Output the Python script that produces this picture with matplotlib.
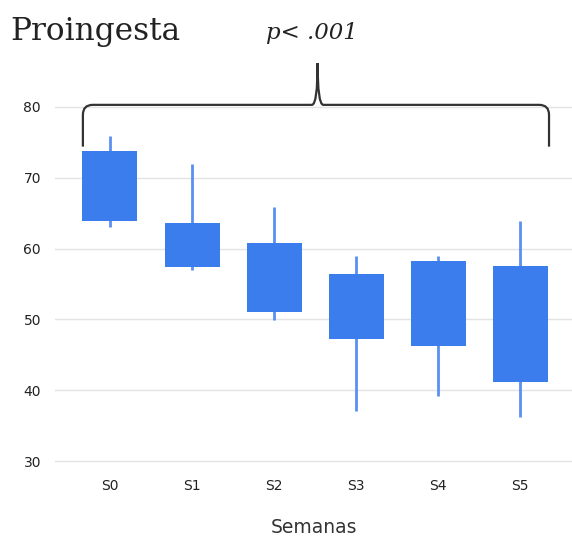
import matplotlib
matplotlib.use('Agg')
import matplotlib.pyplot as plt
import matplotlib.path as mpath
import matplotlib.patches as mpatches
import numpy as np

semanas = ['S0', 'S1', 'S2', 'S3', 'S4', 'S5']
caja_alta = [73.8, 63.6, 60.8, 56.4, 58.3, 57.5]
caja_baja = [63.9, 57.4, 51.1, 47.2, 46.2, 41.1]
bigote_max = [75.9, 72.0, 65.9, 59.0, 58.9, 63.9]
bigote_min = [63.1, 57.0, 49.9, 37.1, 39.2, 36.2]

fig = plt.figure(figsize=(5.72, 5.39), dpi=100)
ax = fig.add_axes([55 / 572, 1 - 468.1 / 539, 517 / 572, 368.2 / 539])

x = np.arange(len(semanas))
# bigotes
ax.vlines(x, bigote_min, bigote_max, color='#5b8ff2', linewidth=2, zorder=2)
# cajas
ax.bar(x, np.array(caja_alta) - np.array(caja_baja), bottom=caja_baja,
       width=0.67, color='#3b7ded', zorder=3)

ax.set_xlim(-0.67, 5.63)
ax.set_ylim(29, 81)
ax.set_yticks([30, 40, 50, 60, 70, 80])
ax.set_xticks(x)
ax.set_xticklabels(semanas)
ax.tick_params(length=0, labelsize=10, colors='#222222', pad=8)
ax.tick_params(axis='y', pad=10)
ax.grid(axis='y', color='#e3e3e3', linewidth=1)
ax.set_axisbelow(True)
for s in ax.spines.values():
    s.set_visible(False)
ax.set_xlabel('Semanas', fontsize=13.5, color='#333333', labelpad=18)

# llave
x0, x1, xp = -0.33, 5.35, 2.53
yb, yh, yt = 74.4, 80.3, 86.2
rx, ry = 0.12, 1.4
verts = [(x0, yb), (x0, yh - ry), (x0, yh), (x0 + rx, yh),
         (xp - 0.07, yh), (xp, yh), (xp, yt),
         (xp, yh), (xp + 0.07, yh),
         (x1 - rx, yh), (x1, yh), (x1, yh - ry), (x1, yb)]
codes = [mpath.Path.MOVETO, mpath.Path.LINETO, mpath.Path.CURVE3, mpath.Path.CURVE3,
         mpath.Path.LINETO, mpath.Path.CURVE3, mpath.Path.CURVE3,
         mpath.Path.CURVE3, mpath.Path.CURVE3,
         mpath.Path.LINETO, mpath.Path.CURVE3, mpath.Path.CURVE3, mpath.Path.LINETO]
llave = mpatches.PathPatch(mpath.Path(verts, codes), facecolor='none',
                           edgecolor='#333333', linewidth=1.6, clip_on=False, zorder=4)
ax.add_patch(llave)

fig.text(10 / 572, 1 - 40 / 539, 'Proingesta', fontsize=22.5, family='DejaVu Serif',
         color='#222222', ha='left', va='baseline')
fig.text(266 / 572, 1 - 39 / 539, 'p< .001', fontsize=16.5, family='DejaVu Serif',
         style='italic', color='#222222', ha='left', va='baseline')

fig.savefig('out.png', dpi=100)
